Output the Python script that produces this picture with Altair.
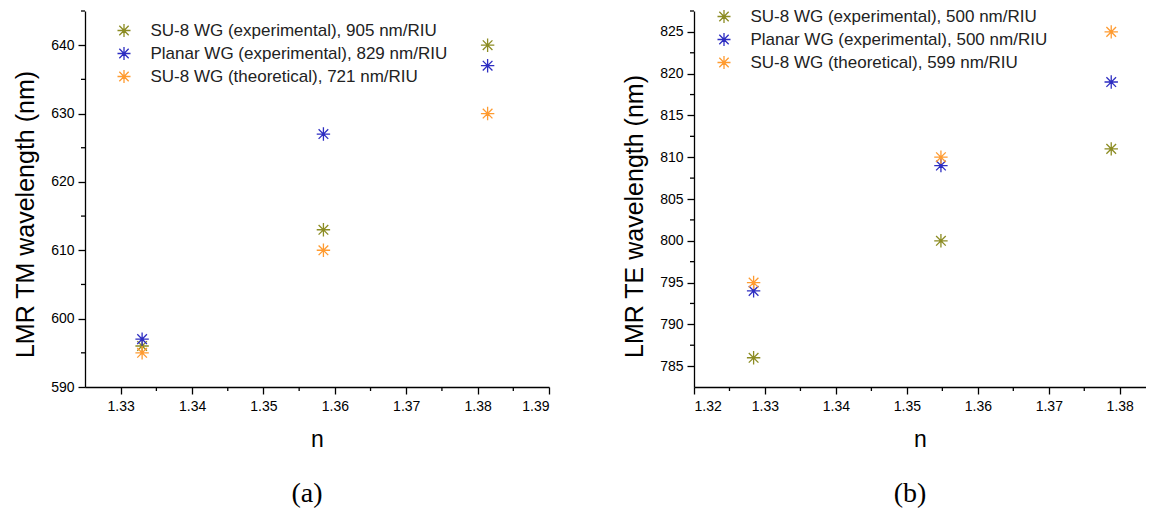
import altair as alt
import pandas as pd

FONT = "Liberation Sans"
SERIF = "Liberation Serif"

# ---- data ----
series_tm = ["SU-8 WG (experimental), 905 nm/RIU",
             "Planar WG (experimental), 829 nm/RIU",
             "SU-8 WG (theoretical), 721 nm/RIU"]
series_te = ["SU-8 WG (experimental), 500 nm/RIU",
             "Planar WG (experimental), 500 nm/RIU",
             "SU-8 WG (theoretical), 599 nm/RIU"]
colors = ["#8C8C23", "#2E2EC2", "#FF9B30"]

tm_n = [1.3330, 1.3584, 1.3814]
tm_su8_exp = [596, 613, 640]
tm_planar_exp = [597, 627, 637]
tm_su8_theo = [595, 610, 630]

te_n = [1.3284, 1.3548, 1.3788]
te_su8_exp = [786, 800, 811]
te_planar_exp = [794, 809, 819]
te_su8_theo = [795, 810, 825]

tm_x_ticks = [1.33, 1.34, 1.35, 1.36, 1.37, 1.38, 1.39]
tm_x_minor = [1.335, 1.345, 1.355, 1.365, 1.375, 1.385]
tm_y_ticks = [590, 600, 610, 620, 630, 640]
tm_y_minor = [595, 605, 615, 625, 635, 645]

te_x_ticks = [1.32, 1.33, 1.34, 1.35, 1.36, 1.37, 1.38]
te_x_minor = [1.325, 1.335, 1.345, 1.355, 1.365, 1.375]
te_y_ticks = [785, 790, 795, 800, 805, 810, 815, 820, 825]
te_y_minor = [787.5, 792.5, 797.5, 802.5, 807.5, 812.5, 817.5, 822.5, 827.5]

STAR = ("M0,-1L0,1M-1,0L1,0M-0.72,-0.72L0.72,0.72M-0.72,0.72L0.72,-0.72"
        "M-0.12,-0.12L0.12,-0.12L0.12,0.12L-0.12,0.12Z")


def panel(n, series_vals, labels, xdom, ydom, xt, xm, yt, ym, ytitle,
          sub, lx, ly, width, height, ydx):
    rows = []
    for lab, vals in zip(labels, series_vals):
        for xv, yv in zip(n, vals):
            rows.append({"n": xv, "wl": yv, "series": lab})
    df = pd.DataFrame(rows)
    xs = alt.Scale(domain=xdom, nice=False, zero=False)
    ys = alt.Scale(domain=ydom, nice=False, zero=False)

    xaxis = alt.Axis(
        values=xt, format=".2f", title="n", tickSize=7, tickWidth=1.3,
        tickColor="black", domainColor="black", domainWidth=1.3,
        labelFont=FONT, labelFontSize=14, labelColor="black",
        labelPadding=5, titleFont=FONT, titleFontSize=23,
        titleFontWeight="normal", titleColor="black", titlePadding=15,
        grid=False)
    yaxis = alt.Axis(
        values=yt, format="d", title=ytitle, tickSize=7, tickWidth=1.3,
        tickColor="black", domainColor="black", domainWidth=1.3,
        labelFont=FONT, labelFontSize=14, labelColor="black",
        labelPadding=4, titleFont=FONT, titleFontSize=25,
        titleFontWeight="normal", titleColor="black", titlePadding=12,
        titleY=ydx, grid=False)

    pts = alt.Chart(df).mark_point(shape=STAR, size=180, filled=False,
                                   strokeWidth=1.3, opacity=1).encode(
        x=alt.X("n:Q", scale=xs, axis=xaxis),
        y=alt.Y("wl:Q", scale=ys, axis=yaxis),
        color=alt.Color("series:N", scale=alt.Scale(domain=labels, range=colors),
                        legend=alt.Legend(
                            title=None, orient="none", legendX=lx, legendY=ly,
                            symbolType=STAR, symbolSize=169,
                            symbolStrokeWidth=1.3, symbolFillColor="transparent",
                            labelFont=FONT, labelFontSize=17, labelColor="#222222",
                            labelOffset=18, rowPadding=4, padding=0,
                            labelLimit=600)),
    )

    dmx = pd.DataFrame({"n": xm})
    dmy = pd.DataFrame({"wl": ym})
    minor_x = alt.Chart(dmx).mark_rule(color="black", strokeWidth=1.3).encode(
        x=alt.X("n:Q", scale=xs, axis=xaxis),
        y=alt.value(height), y2=alt.value(height + 4))
    minor_y = alt.Chart(dmy).mark_rule(color="black", strokeWidth=1.3).encode(
        y=alt.Y("wl:Q", scale=ys, axis=yaxis),
        x=alt.value(0), x2=alt.value(-4))

    return alt.layer(pts, minor_x, minor_y).properties(
        width=width, height=height,
        title=alt.TitleParams(sub, orient="bottom", font=SERIF, fontSize=28,
                              fontWeight="normal", color="black", offset=29,
                              frame="group", anchor="middle", dx=-10))


left = panel(tm_n, [tm_su8_exp, tm_planar_exp, tm_su8_theo], series_tm,
             [1.325, 1.39], [590, 645], tm_x_ticks, tm_x_minor,
             tm_y_ticks, tm_y_minor, "LMR TM wavelength (nm)", "(a)",
             30.5, 11, 464, 376, 203)
right = panel(te_n, [te_su8_exp, te_planar_exp, te_su8_theo], series_te,
              [1.32, 1.3837], [782.5, 827.5], te_x_ticks, te_x_minor,
              te_y_ticks, te_y_minor, "LMR TE wavelength (nm)", "(b)",
              21.5, -3, 452, 376, 205)

chart = alt.hconcat(left, right, spacing=72).resolve_scale(
    color="independent").configure_view(stroke=None).properties(
    padding={"left": 5, "top": 0, "right": 0, "bottom": 0},
    background="white")

chart.save("out.html", embed_options={"renderer": "svg", "actions": False})
